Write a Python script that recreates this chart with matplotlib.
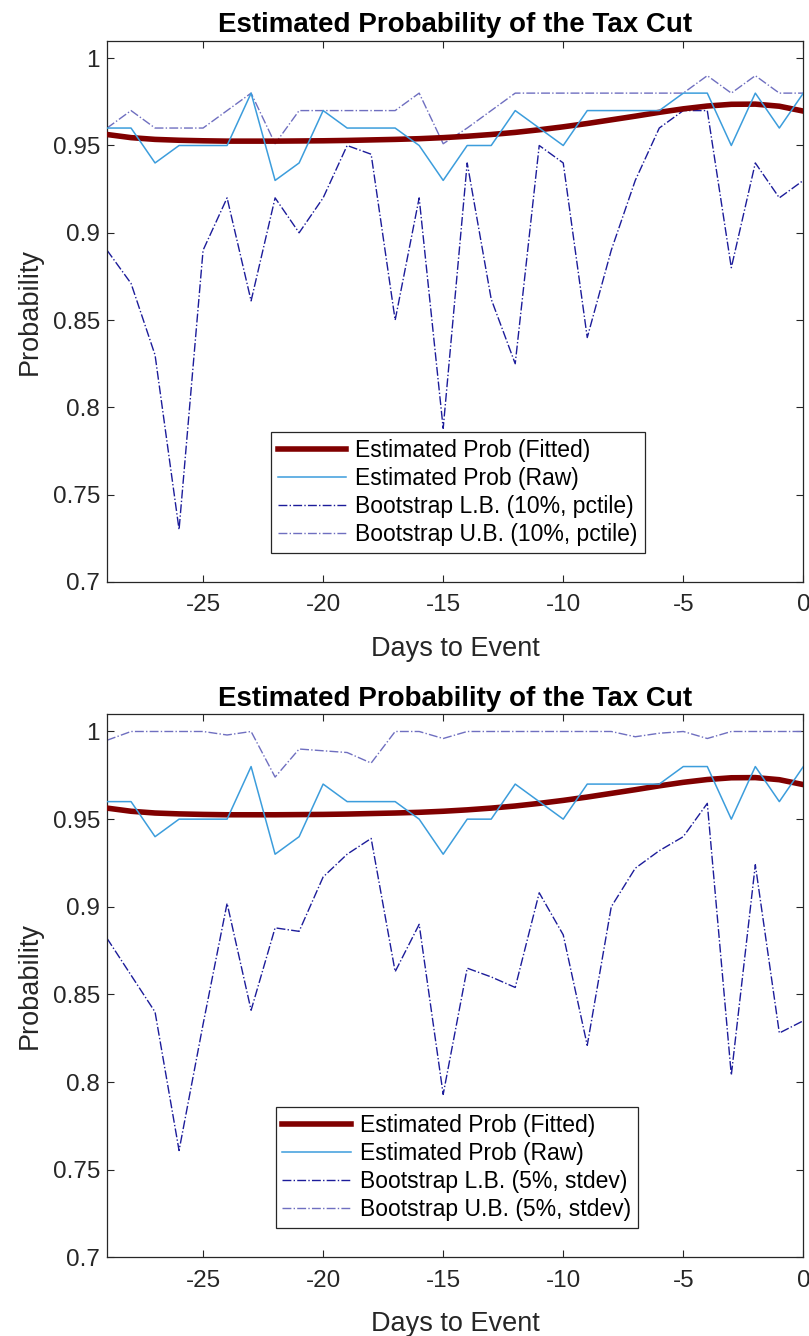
import matplotlib.pyplot as plt

plt.rcParams['font.family'] = ['Liberation Sans', 'DejaVu Sans']
plt.rcParams['axes.unicode_minus'] = False

days = list(range(-29, 1))

prob_raw = [0.96, 0.96, 0.94, 0.95, 0.95, 0.95, 0.98, 0.93, 0.94, 0.97,
            0.96, 0.96, 0.96, 0.95, 0.93, 0.95, 0.95, 0.97, 0.96, 0.95,
            0.97, 0.97, 0.97, 0.97, 0.98, 0.98, 0.95, 0.98, 0.96, 0.98]

prob_fit = [0.9563, 0.9545, 0.9535, 0.9530, 0.9527, 0.9525, 0.9525, 0.9525, 0.9526, 0.9527,
            0.9529, 0.9532, 0.9535, 0.9539, 0.9545, 0.9553, 0.9563, 0.9575, 0.9590, 0.9607,
            0.9626, 0.9647, 0.9668, 0.9690, 0.9710, 0.9726, 0.9736, 0.9737, 0.9725, 0.9697]

# 10% percentile bootstrap bounds
lb_pct = [0.890, 0.871, 0.830, 0.730, 0.890, 0.920, 0.861, 0.920, 0.900, 0.920,
          0.950, 0.945, 0.850, 0.920, 0.788, 0.940, 0.862, 0.825, 0.950, 0.940,
          0.840, 0.890, 0.930, 0.960, 0.970, 0.970, 0.880, 0.940, 0.920, 0.930]
ub_pct = [0.960, 0.970, 0.960, 0.960, 0.960, 0.970, 0.980, 0.951, 0.970, 0.970,
          0.970, 0.970, 0.970, 0.980, 0.951, 0.960, 0.970, 0.980, 0.980, 0.980,
          0.980, 0.980, 0.980, 0.980, 0.980, 0.990, 0.980, 0.990, 0.980, 0.980]

# 5% stdev bootstrap bounds
lb_std = [0.882, 0.861, 0.840, 0.761, 0.833, 0.902, 0.841, 0.888, 0.886, 0.917,
          0.930, 0.939, 0.863, 0.890, 0.793, 0.865, 0.860, 0.854, 0.908, 0.884,
          0.821, 0.900, 0.922, 0.932, 0.940, 0.959, 0.804, 0.924, 0.828, 0.835]
ub_std = [0.995, 1.000, 1.000, 1.000, 1.000, 0.998, 1.000, 0.974, 0.990, 0.989,
          0.988, 0.982, 1.000, 1.000, 0.996, 1.000, 1.000, 1.000, 1.000, 1.000,
          1.000, 1.000, 0.997, 0.999, 1.000, 0.996, 1.000, 1.000, 1.000, 1.000]

yticks = [0.7, 0.75, 0.8, 0.85, 0.9, 0.95, 1.0]
ytick_labels = ['0.7', '0.75', '0.8', '0.85', '0.9', '0.95', '1']
xticks = [-25, -20, -15, -10, -5, 0]

axis_col = '#262626'

fig = plt.figure(figsize=(8.09, 13.36), dpi=100)
ax1 = fig.add_axes([0.1323, 0.5644, 0.8607, 0.4051])
ax2 = fig.add_axes([0.1323, 0.0588, 0.8607, 0.4068])


def draw_panel(ax, lb, ub, lb_label, ub_label, anchor):
    ax.plot(days, prob_fit, color='#800000', lw=4, label='Estimated Prob (Fitted)', zorder=3)
    ax.plot(days, prob_raw, color='#3c9ddc', lw=1.1, label='Estimated Prob (Raw)', zorder=4)
    ax.plot(days, lb, color='#1c1c9a', lw=1.0, ls='-.', label=lb_label, zorder=2)
    ax.plot(days, ub, color='#6f6fc0', lw=1.0, ls='-.', label=ub_label, zorder=2)
    ax.set_xlim(-29, 0)
    ax.set_ylim(0.7, 1.01)
    ax.set_xticks(xticks)
    ax.set_xticklabels([str(t) for t in xticks])
    ax.set_yticks(yticks)
    ax.set_yticklabels(ytick_labels)
    ax.tick_params(direction='in', top=True, right=True, length=5, width=0.8,
                   labelsize=17.5, colors=axis_col)
    ax.tick_params(axis='x', pad=9)
    ax.tick_params(axis='y', pad=5)
    for s in ax.spines.values():
        s.set_color(axis_col)
        s.set_linewidth(0.9)
    ax.set_title('Estimated Probability of the Tax Cut', fontsize=20,
                 fontweight='bold', pad=6)
    ax.set_xlabel('Days to Event', fontsize=19.5, color=axis_col, labelpad=14)
    ax.set_ylabel('Probability', fontsize=19.5, color=axis_col, labelpad=7)
    leg = ax.legend(loc='lower left', bbox_to_anchor=anchor, borderaxespad=0,
                    fontsize=16.5, handlelength=3.0, handletextpad=0.4,
                    fancybox=False, framealpha=1, borderpad=0.3, labelspacing=0.22)
    leg.get_frame().set_edgecolor(axis_col)
    leg.get_frame().set_linewidth(0.9)


draw_panel(ax1, lb_pct, ub_pct, 'Bootstrap L.B. (10%, pctile)',
           'Bootstrap U.B. (10%, pctile)', (0.235, 0.054))
draw_panel(ax2, lb_std, ub_std, 'Bootstrap L.B. (5%, stdev)',
           'Bootstrap U.B. (5%, stdev)', (0.242, 0.054))

fig.savefig('out.png', dpi=100)
